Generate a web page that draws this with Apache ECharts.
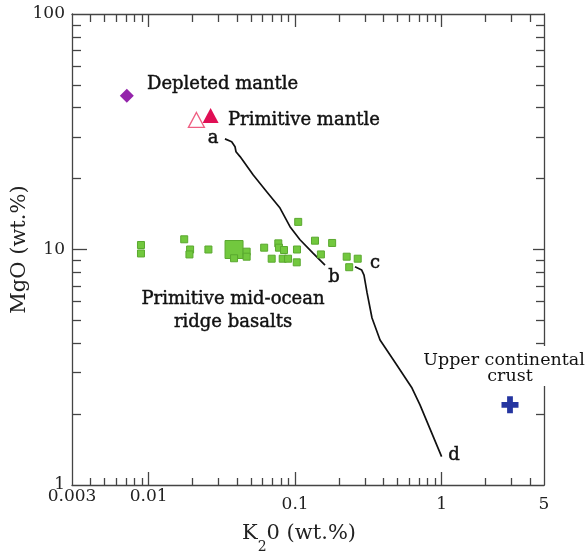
<!DOCTYPE html>
<html><head><meta charset="utf-8">
<script src="https://cdn.jsdelivr.net/npm/echarts@6/dist/echarts.min.js"></script>
<style>html,body{margin:0;padding:0;background:#fff}#c{width:587px;height:552px}</style>
</head><body><div id="c"></div>
<script>
const xTickLabels = [0.003, 0.01, 0.1, 1, 5];
const xMajorTicks = [0.01, 0.1, 1];
const xMinorTicks = [0.004,0.005,0.006,0.007,0.008,0.009,0.02,0.03,0.04,0.05,0.06,0.07,0.08,0.09,0.2,0.3,0.4,0.5,0.6,0.7,0.8,0.9,2,3,4];
const yTickLabels = [1, 10, 100];
const yMajorTicks = [10];
const yMinorTicks = [2,3,4,5,6,7,8,9,20,30,40,50,60,70,80,90];

const depletedMantle = [[0.0071, 45]];
const primitiveMantle = [[0.0265, 37.1]];
const primitiveMantleOpen = [[0.0212, 35.5]];
const upperContinentalCrust = [[2.93, 2.19]];
const morbLarge = [[0.0383, 10.0]];
const morbSmall = [
  [0.00887, 10.45], [0.00887, 9.62], [0.0175, 11.05], [0.0192, 10.0], [0.0190, 9.53],
  [0.0256, 10.0], [0.0383, 9.18], [0.0467, 9.79], [0.0467, 9.32], [0.0615, 10.18],
  [0.0768, 10.62], [0.0776, 10.18], [0.084, 9.95], [0.0692, 9.14], [0.0823, 9.14],
  [0.0895, 9.14], [0.103, 10.0], [0.1026, 8.82], [0.105, 13.1], [0.1367, 10.9],
  [0.150, 9.53], [0.179, 10.66], [0.225, 9.32], [0.2675, 9.14], [0.234, 8.41]
];
const trendAB = [
  [0.0332, 29.5], [0.0369, 28.7], [0.0389, 27.3], [0.0395, 26.0], [0.0421, 24.8],
  [0.0518, 20.7], [0.064, 17.6], [0.0789, 15.0], [0.0923, 12.5], [0.108, 11.0],
  [0.1325, 9.66], [0.16, 8.59]
];
const trendCD = [
  [0.2563, 8.45], [0.2849, 8.18], [0.2953, 7.79], [0.310, 6.54], [0.335, 5.12],
  [0.38, 4.13], [0.488, 3.27], [0.628, 2.58], [0.712, 2.19], [1.0, 1.32]
];

const FONT = 'DejaVu Serif';
const AX = '#444';
function fmt(v){ return String(+(+v).toPrecision(6)); }

function xAxis(pos, ticks, len, main) {
  return {
    type: 'log', logBase: 10, min: 0.003, max: 5, position: pos, gridIndex: 0,
    axisLine: { show: main, onZero: false, lineStyle: { color: AX, width: 1.3 } },
    axisTick: { show: true, inside: true, length: len, customValues: ticks, lineStyle: { color: AX, width: 1.3 } },
    axisLabel: (main && pos === 'bottom') ? {
      show: true, customValues: xTickLabels, margin: 3, color: '#222', fontFamily: FONT, fontSize: 17,
      formatter: v => (v < 0.05 ? '{hi|' : '{lo|') + fmt(v) + '}',
      rich: { hi: { padding: [0,0,0,0] }, lo: { padding: [8,0,0,0] } }
    } : { show: false },
    splitLine: { show: false }, minorTick: { show: false }, minorSplitLine: { show: false },
    name: (main && pos === 'bottom') ? '{k|K}{s|2}{e|0 (wt.%)}' : '',
    nameLocation: 'middle', nameGap: 38, nameMoveOverlap: false,
    nameTextStyle: {
      fontFamily: FONT, fontSize: 21, color: '#222',
      rich: {
        k: { fontSize: 21, lineHeight: 26, verticalAlign: 'top' },
        s: { fontSize: 14, lineHeight: 14, verticalAlign: 'top', padding: [17, 0, 0, 0] },
        e: { fontSize: 21, lineHeight: 26, verticalAlign: 'top', padding: [0, 18, 0, 0] }
      }
    }
  };
}
function yAxis(pos, ticks, len, main) {
  return {
    type: 'log', logBase: 10, min: 1, max: 100, position: pos, gridIndex: 0,
    axisLine: { show: main, onZero: false, lineStyle: { color: AX, width: 1.3 } },
    axisTick: { show: true, inside: true, length: len, customValues: ticks, lineStyle: { color: AX, width: 1.3 } },
    axisLabel: (main && pos === 'left') ? {
      show: true, customValues: yTickLabels, margin: 7, color: '#222', fontFamily: FONT, fontSize: 17,
      formatter: v => fmt(v)
    } : { show: false },
    splitLine: { show: false }, minorTick: { show: false }, minorSplitLine: { show: false },
    name: (main && pos === 'left') ? 'MgO (wt.%)' : '',
    nameLocation: 'middle', nameGap: 42, nameRotate: 90, nameMoveOverlap: false,
    nameTextStyle: { fontFamily: FONT, fontSize: 21, color: '#222' }
  };
}

function label(text, x, y, align, opts) {
  opts = opts || {};
  return {
    type: 'text', x: x, y: y, z: 101,
    style: {
      text: text, font: (opts.size || 18) + 'px "' + FONT + '"', fill: '#111',
      stroke: opts.bold === false ? null : '#111', lineWidth: opts.bold === false ? 0 : 0.45,
      align: align, verticalAlign: 'middle'
    }
  };
}

const chart = echarts.init(document.getElementById('c'), null, { renderer: 'canvas' });
chart.setOption({
  animation: false,
  backgroundColor: '#fff',
  grid: { left: 72, right: 43, top: 14, bottom: 67, containLabel: false, outerBoundsMode: 'none' },
  xAxis: [
    xAxis('bottom', xMajorTicks, 13, true),
    xAxis('bottom', xMinorTicks, 7, false),
    xAxis('top', xMajorTicks, 13, true),
    xAxis('top', xMinorTicks, 8, false)
  ],
  yAxis: [
    yAxis('left', yMajorTicks, 15, true),
    yAxis('left', yMinorTicks, 9, false),
    yAxis('right', yMajorTicks, 11, true),
    yAxis('right', yMinorTicks, 8, false)
  ],
  series: [
    { type: 'line', data: trendAB, symbol: 'none', lineStyle: { color: '#111', width: 1.7 }, z: 3, silent: true },
    { type: 'line', data: trendCD, symbol: 'none', lineStyle: { color: '#111', width: 1.7 }, z: 3, silent: true },
    { type: 'scatter', data: morbLarge, symbol: 'rect', symbolSize: 18,
      itemStyle: { color: '#72c83e', borderColor: '#5aa82f', borderWidth: 1, opacity: 1 }, z: 4, silent: true },
    { type: 'scatter', data: morbSmall, symbol: 'rect', symbolSize: 7,
      itemStyle: { color: '#72c83e', borderColor: '#5aa82f', borderWidth: 1, opacity: 1 }, z: 5, silent: true },
    { type: 'scatter', data: depletedMantle, symbol: 'diamond', symbolSize: 14,
      itemStyle: { color: '#9424ab', opacity: 1 }, z: 5, silent: true },
    { type: 'scatter', data: primitiveMantleOpen, symbol: 'triangle', symbolSize: [16, 15],
      itemStyle: { color: '#fff', borderColor: '#ef5f82', borderWidth: 1.3, opacity: 1 }, z: 5, silent: true },
    { type: 'scatter', data: primitiveMantle, symbol: 'triangle', symbolSize: [16, 15],
      itemStyle: { color: '#e00f55', opacity: 1 }, z: 6, silent: true },
    { type: 'scatter', data: upperContinentalCrust,
      symbol: 'path://M3.3,0H6.7V3.3H10V6.7H6.7V10H3.3V6.7H0V3.3H3.3Z', symbolSize: [17, 17],
      itemStyle: { color: '#2535a0', opacity: 1 }, z: 5, silent: true }
  ],
  graphic: [
    { type: 'rect', z: 100, shape: { x: 533, y: 346, width: 19, height: 40 }, style: { fill: '#fff' } },
    label('Depleted mantle', 147, 84, 'left'),
    label('Primitive mantle', 228, 120.5, 'left'),
    label('a', 213, 138.5, 'center'),
    label('b', 334, 277, 'center'),
    label('c', 375, 263, 'center'),
    label('d', 454, 455.5, 'center'),
    label('Primitive mid-ocean', 233, 299, 'center'),
    label('ridge basalts', 233, 322, 'center'),
    label('Upper continental', 504, 360, 'center', { bold: false, size: 17.5 }),
    label('crust', 510, 376, 'center', { bold: false, size: 17.5 })
  ]
});
</script></body></html>
